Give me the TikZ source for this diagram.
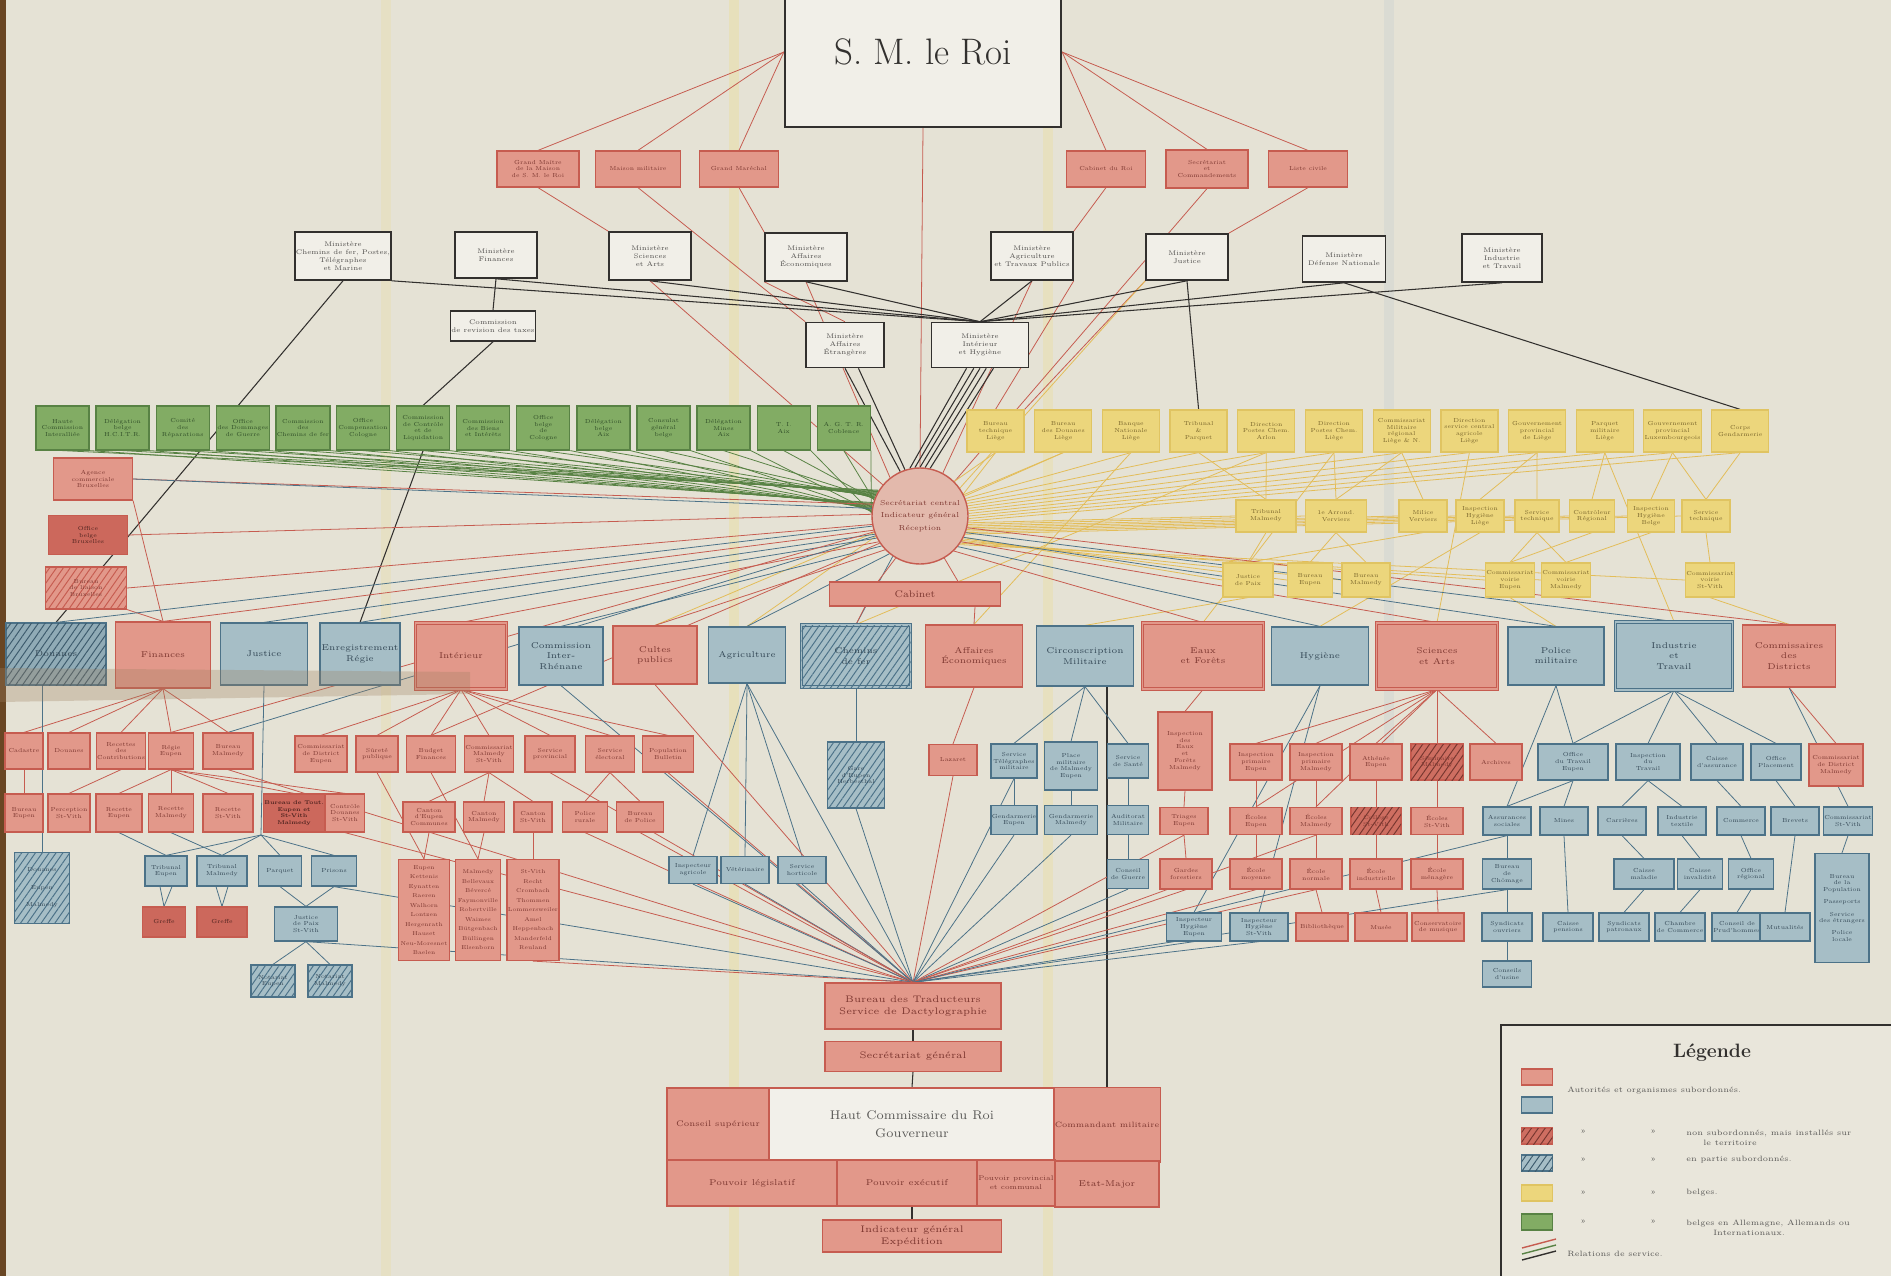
\documentclass[tikz,border=0pt]{standalone}
\usepackage{tikz}
\usetikzlibrary{positioning,patterns.meta,backgrounds}
\definecolor{paper}{RGB}{229,226,213}
\definecolor{redfill}{RGB}{226,152,138}
\definecolor{redline}{RGB}{198,92,80}
\definecolor{redtxt}{RGB}{125,55,48}
\definecolor{bluefill}{RGB}{166,190,198}
\definecolor{blueline}{RGB}{76,114,136}
\definecolor{bluetxt}{RGB}{52,72,86}
\definecolor{greenfill}{RGB}{130,172,100}
\definecolor{greenline}{RGB}{88,130,68}
\definecolor{greentxt}{RGB}{48,78,40}
\definecolor{yelfill}{RGB}{236,214,124}
\definecolor{yelline}{RGB}{224,196,98}
\definecolor{yeltxt}{RGB}{120,100,42}
\definecolor{ink}{RGB}{50,48,46}
\tikzset{
  sz/.style 2 args={minimum width=#1*0.2mm, minimum height=#2*0.2mm},
  box/.style={draw, line width=0.7pt, inner sep=0.5pt, align=center, font=\fontsize{3.3}{3.9}\selectfont},
  redbox/.style={box, draw=redline, fill=redfill, text=redtxt},
  deepred/.style={box, draw=redline, fill=redline!80!redfill, text=redtxt!60!black},
  bluebox/.style={box, draw=blueline, fill=bluefill, text=bluetxt},
  greenbox/.style={box, draw=greenline, fill=greenfill, text=greentxt},
  yelbox/.style={box, draw=yelline, fill=yelfill, text=yeltxt},
  minbox/.style={box, draw=ink, line width=0.9pt, fill=paper!55!white, text=ink!85, font=\fontsize{3.8}{4.6}\selectfont},
  hatched/.style={postaction={pattern={Lines[angle=55,distance=3.2pt,line width=0.55pt]}, pattern color=#1}},
  dbl/.style={double=#1, double distance=0.9pt, line width=0.6pt},
  rowfont/.style={font=\fontsize{4.8}{5.8}\selectfont},
  rel/.style={line width=0.45pt},
  redrel/.style={rel, draw=redline},
  bluerel/.style={rel, draw=blueline},
  greenrel/.style={rel, draw=greenline},
  yelrel/.style={rel, draw=yelline!90!orange},
  inkrel/.style={rel, draw=ink, line width=0.6pt},
  lgtext/.style={anchor=west, inner sep=0pt, text=ink!80, font=\fontsize{4.4}{5.4}\selectfont, align=left},
}
\begin{document}
\begin{tikzpicture}[x=0.2mm, y=-0.2mm]
\useasboundingbox (0,0) rectangle (1891,1276);
\begin{scope}[on background layer]
\fill[paper] (0,0) rectangle (1891,1276);
\fill[paper!70!white, opacity=0.5] (1501,1025) rectangle (1891,1276);
\fill[yellow!70!orange, opacity=0.08] (381,0) rectangle (391,1276);
\fill[yellow!70!orange, opacity=0.12] (729,0) rectangle (739,1276);
\fill[yellow!70!orange, opacity=0.1] (1043,0) rectangle (1053,1276);
\fill[cyan!40!blue, opacity=0.05] (1384,0) rectangle (1394,760);
\fill[brown!55!black] (0,0) rectangle (6,1276);
\end{scope}

\node[minbox, sz={276}{150}, line width=1.3pt, text=ink, font=\fontsize{21}{25}\selectfont] (roi) at (923,52) {S. M. le Roi};

\node[redbox, sz={82}{36}] (gm) at (538,169) {Grand Maître\\de la Maison\\de S.~M. le Roi};
\node[redbox, sz={85}{36}] (mm) at (638,169) {Maison militaire};
\node[redbox, sz={79}{36}] (gmar) at (739,169) {Grand Maréchal};
\node[redbox, sz={79}{36}] (cab) at (1106,169) {Cabinet du Roi};
\node[redbox, sz={82}{38}] (secr) at (1207,169) {Secrétariat\\et\\Commandements};
\node[redbox, sz={79}{36}] (lc) at (1308,169) {Liste civile};

\node[minbox, sz={82}{48}] (mcf) at (343,256) {Ministère\\Chemins de fer, Postes,\\Télégraphes\\et Marine};
\node[minbox, sz={82}{46}] (mfin) at (496,255) {Ministère\\Finances};
\node[minbox, sz={82}{48}] (msci) at (650,256) {Ministère\\Sciences\\et Arts};
\node[minbox, sz={82}{48}] (meco) at (806,257) {Ministère\\Affaires\\Économiques};
\node[minbox, sz={82}{48}] (magr) at (1032,256) {Ministère\\Agriculture\\et Travaux Publics};
\node[minbox, sz={82}{46}] (mjus) at (1187,257) {Ministère\\Justice};
\node[minbox, sz={83}{46}] (mdef) at (1344,259) {Ministère\\Défense Nationale};
\node[minbox, sz={80}{48}] (mind) at (1502,258) {Ministère\\Industrie\\et Travail};
\node[minbox, sz={70}{30}] (ctax) at (493,326) {Commission\\de revision des taxes};
\node[minbox, sz={78}{45}] (maet) at (845,345) {Ministère\\Affaires\\Étrangères};
\node[minbox, sz={97}{45}] (mint) at (980,345) {Ministère\\Intérieur\\et Hygiène};

\foreach \i/\t in {1/{Haute\\Commission\\Interalliée}, 2/{Délégation\\belge\\H.C.I.T.R.}, 3/{Comité\\des\\Réparations}, 4/{Office\\des Dommages\\de Guerre}, 5/{Commission\\des\\Chemins de fer}, 6/{Office\\Compensation\\Cologne}, 7/{Commission\\de Contrôle\\et de\\Liquidation}, 8/{Commission\\des Biens\\et Intérêts}, 9/{Office\\belge\\de\\Cologne}, 10/{Délégation\\belge\\Aix}, 11/{Consulat\\général\\belge}, 12/{Délégation\\Mines\\Aix}, 13/{T. I.\\Aix}, 14/{A.~G.~T.~R.\\Coblence}}
  \node[greenbox, sz={53}{44}] (g\i) at ({62.5+60.1*(\i-1)},428) {\t};

\foreach \i/\t in {1/{Bureau\\technique\\Liège}, 2/{Bureau\\des Douanes\\Liège}, 3/{Banque\\Nationale\\Liège}, 4/{Tribunal\\\&\\Parquet}, 5/{Direction\\Postes Chem.\\Arlon}, 6/{Direction\\Postes Chem.\\Liège}, 7/{Commissariat\\Militaire\\régional\\Liège \& N.}, 8/{Direction\\service central\\agricole\\Liège}, 9/{Gouvernement\\provincial\\de Liège}, 10/{Parquet\\militaire\\Liège}, 11/{Gouvernement\\provincial\\Luxembourgeois}, 12/{Corps\\Gendarmerie}}
  \node[yelbox, sz={57}{42}] (y\i) at ({995.5+67.7*(\i-1)},431) {\t};

\foreach \n/\x/\w/\t in {yb1/1266/60/{Tribunal\\Malmedy}, yb2/1336/61/{1e Arrond.\\Verviers}, yb3/1423/48/{Milice\\Verviers}, yb4/1480/48/{Inspection\\Hygiène\\Liège}, yb5/1537/44/{Service\\technique}, yb6/1592/45/{Contrôleur\\Régional}, yb7/1651/47/{Inspection\\Hygiène\\Belge}, yb8/1706/48/{Service\\technique}}
  \node[yelbox, sz={\w}{32}] (\n) at (\x,516) {\t};

\foreach \n/\x/\w/\t in {yc1/1248/50/{Justice\\de Paix}, yc2/1310/45/{Bureau\\Eupen}, yc3/1366/48/{Bureau\\Malmedy}, yc4/1510/45/{Commissariat\\voirie\\Eupen}, yc5/1566/47/{Commissariat\\voirie\\Malmedy}, yc6/1710/48/{Commissariat\\voirie\\St-Vith}}
  \node[yelbox, sz={\w}{34}] (\n) at (\x,580) {\t};

\node[redbox, sz={79}{42}] (lr1) at (93,479) {Agence\\commerciale\\Bruxelles};
\node[deepred, sz={79}{39}] (lr2) at (88,535) {Office\\belge\\Bruxelles};
\node[redbox, sz={81}{42}, hatched=redline] (lr3) at (86,588) {Bureau\\de liaison\\Bruxelles};

\node[circle, draw=redline, line width=0.8pt, fill=redfill!55!paper, minimum size=96*0.2mm, inner sep=0pt, align=center, text=redtxt, font=\fontsize{4.1}{7.2}\selectfont] (sec) at (920,516) {Secrétariat central\\Indicateur général\\Réception};
\node[redbox, sz={171}{24}, font=\fontsize{5.5}{6.5}\selectfont] (cabinet) at (915,594) {Cabinet};

\node[bluebox, rowfont, sz={100}{62}, fill=bluefill!75!blueline, hatched=blueline!80!black] (mr1) at (56,654) {Douanes};
\node[redbox, rowfont, sz={95}{66}] (mr2) at (163,655) {Finances};
\node[bluebox, rowfont, sz={87}{62}] (mr3) at (264,654) {Justice};
\node[bluebox, rowfont, sz={80}{62}] (mr4) at (360,654) {Enregistrement\\Régie};
\node[redbox, rowfont, sz={91}{66}, dbl=redfill] (mr5) at (461,656) {Intérieur};
\node[bluebox, rowfont, sz={84}{58}] (mr6) at (561,656) {Commission\\Inter-\\Rhénane};
\node[redbox, rowfont, sz={84}{58}] (mr7) at (655,655) {Cultes\\publics};
\node[bluebox, rowfont, sz={77}{56}] (mr8) at (747,655) {Agriculture};
\node[bluebox, rowfont, sz={109}{62}, dbl=bluefill, hatched=blueline] (mr9) at (856,656) {Chemins\\de fer};
\node[redbox, rowfont, sz={97}{62}] (mr10) at (974,656) {Affaires\\Économiques};
\node[bluebox, rowfont, sz={97}{60}] (mr11) at (1085,656) {Circonscription\\Militaire};
\node[redbox, rowfont, sz={121}{66}, dbl=redfill] (mr12) at (1203,656) {Eaux\\et Forêts};
\node[bluebox, rowfont, sz={97}{58}] (mr13) at (1320,656) {Hygiène};
\node[redbox, rowfont, sz={121}{66}, dbl=redfill] (mr14) at (1437,656) {Sciences\\et Arts};
\node[bluebox, rowfont, sz={96}{58}] (mr15) at (1556,656) {Police\\militaire};
\node[bluebox, rowfont, sz={117}{68}, dbl=bluefill] (mr16) at (1674,656) {Industrie\\et\\Travail};
\node[redbox, rowfont, sz={93}{62}] (mr17) at (1789,656) {Commissaires\\des\\Districts};

\foreach \n/\x/\w/\t in {fa1/24/38/{Cadastre}, fa2/69/42/{Douanes}, fa3/121/49/{Recettes\\des\\Contributions}, fa4/171/45/{Régie\\Eupen}, fa5/228/50/{Bureau\\Malmedy}}
  \node[redbox, sz={\w}{36}] (\n) at (\x,751) {\t};
\foreach \n/\x/\w/\t in {fb1/24/38/{Bureau\\Eupen}, fb2/69/42/{Perception\\St-Vith}, fb3/119/46/{Recette\\Eupen}, fb4/171/45/{Recette\\Malmedy}, fb5/228/50/{Recette\\St-Vith}, fb7/345/39/{Contrôle\\Douanes\\St-Vith}}
  \node[redbox, sz={\w}{38}] (\n) at (\x,813) {\t};
\node[deepred, sz={52}{38}, font=\bfseries\fontsize{3.1}{3.7}\selectfont] (fb6) at (294,813) {Bureau de Tout.\\Eupen et\\St-Vith\\Malmedy};
\node[bluebox, sz={55}{71}, hatched=blueline] (fh) at (42,888) {Douanes\\[6pt]Eupen\\[6pt]Malmedy};
\foreach \n/\x/\w/\t in {jc1/166/42/{Tribunal\\Eupen}, jc2/222/50/{Tribunal\\Malmedy}, jc3/280/43/{Parquet}, jc4/334/45/{Prisons}}
  \node[bluebox, sz={\w}{30}] (\n) at (\x,871) {\t};
\node[deepred, sz={43}{30}] (jd1) at (164,922) {Greffe};
\node[deepred, sz={50}{30}] (jd2) at (222,922) {Greffe};
\node[bluebox, sz={63}{34}] (jdp) at (306,924) {Justice\\de Paix\\St-Vith};
\node[bluebox, sz={44}{32}, hatched=blueline] (je1) at (273,981) {Notariat\\Eupen};
\node[bluebox, sz={44}{32}, hatched=blueline] (je2) at (330,981) {Notariat\\Malmedy};

\foreach \n/\x/\w/\t in {ia1/321/52/{Commissariat\\de District\\Eupen}, ia2/377/42/{Sûreté\\publique}, ia3/431/49/{Budget\\Finances}, ia4/489/49/{Commissariat\\Malmedy\\St-Vith}, ia5/550/50/{Service\\provincial}, ia6/610/49/{Service\\électoral}, ia7/668/51/{Population\\Bulletin}}
  \node[redbox, sz={\w}{36}] (\n) at (\x,754) {\t};
\foreach \n/\x/\w/\t in {ib1/429/52/{Canton\\d'Eupen\\Communes}, ib2/484/41/{Canton\\Malmedy}, ib3/533/38/{Canton\\St-Vith}, ib4/585/45/{Police\\rurale}, ib5/640/47/{Bureau\\de Police}}
  \node[redbox, sz={\w}{30}] (\n) at (\x,817) {\t};
\foreach \n/\x/\w/\t in {it1/424/51/{Eupen\\Kettenis\\Eynatten\\Raeren\\Walhorn\\Lontzen\\Hergenrath\\Hauset\\Neu-Moresnet\\Baelen}, it2/478/45/{Malmedy\\Bellevaux\\Bévercé\\Faymonville\\Robertville\\Waimes\\Bütgenbach\\Büllingen\\Elsenborn}, it3/533/45/{St-Vith\\Recht\\Crombach\\Thommen\\Lommersweiler\\Amel\\Heppenbach\\Manderfeld\\Reuland}}
  \node[redbox, sz={\w}{101}, font=\fontsize{3.2}{5.4}\selectfont] (\n) at (\x,910) {\t};

\foreach \n/\x/\t in {ag1/693/{Inspecteur\\agricole}, ag2/745/{Vétérinaire}, ag3/802/{Service\\horticole}}
  \node[bluebox, sz={48}{27}] (\n) at (\x,870) {\t};
\node[bluebox, sz={57}{66}, hatched=blueline] (h9) at (856,775) {Gare\\d'Eupen\\Herbesthal};
\node[redbox, sz={48}{31}] (laz) at (953,760) {Lazaret};
\node[bluebox, sz={46}{34}] (ma1) at (1014,761) {Service\\Télégraphes\\militaire};
\node[bluebox, sz={53}{48}] (ma2) at (1071,766) {Place\\militaire\\de Malmedy\\Eupen};
\node[bluebox, sz={41}{34}] (ma3) at (1128,761) {Service\\de Santé};
\node[bluebox, sz={46}{29}] (mb1) at (1014,820) {Gendarmerie\\Eupen};
\node[bluebox, sz={53}{29}] (mb2) at (1071,820) {Gendarmerie\\Malmedy};
\node[bluebox, sz={41}{29}] (mb3) at (1128,820) {Auditorat\\Militaire};
\node[bluebox, sz={41}{29}] (mc3) at (1128,874) {Conseil\\de Guerre};

\node[redbox, sz={54}{78}] (ef1) at (1185,751) {Inspection\\des\\Eaux\\et\\Forêts\\Malmedy};
\node[redbox, sz={48}{27}] (ef2) at (1184,821) {Triages\\Eupen};
\node[redbox, sz={52}{30}] (ef3) at (1186,874) {Gardes\\forestiers};
\node[bluebox, sz={55}{28}] (ef4) at (1194,927) {Inspecteur\\Hygiène\\Eupen};
\node[bluebox, sz={58}{28}] (ef5) at (1259,927) {Inspecteur\\Hygiène\\St-Vith};

\foreach \n/\x/\t in {sa1/1256/{Inspection\\primaire\\Eupen}, sa2/1316/{Inspection\\primaire\\Malmedy}, sa3/1376/{Athénée\\Eupen}, sa5/1496/{Archives}}
  \node[redbox, sz={52}{36}] (\n) at (\x,762) {\t};
\node[redbox, sz={52}{36}, fill=redline!70!redfill, hatched=redline!60!black] (sa4) at (1437,762) {Séminaire\\Malmedy};
\foreach \n/\x/\t in {sb1/1256/{Écoles\\Eupen}, sb2/1316/{Écoles\\Malmedy}, sb4/1437/{Écoles\\St-Vith}}
  \node[redbox, sz={52}{27}] (\n) at (\x,821) {\t};
\node[redbox, sz={50}{27}, fill=redline!70!redfill, hatched=redline!60!black] (sb3) at (1376,821) {Collège\\St-Vith};
\foreach \n/\x/\t in {sc1/1256/{École\\moyenne}, sc2/1316/{École\\normale}, sc3/1376/{École\\industrielle}, sc4/1437/{École\\ménagère}}
  \node[redbox, sz={52}{30}] (\n) at (\x,874) {\t};
\foreach \n/\x/\t in {sd1/1322/{Bibliothèque}, sd2/1381/{Musée}, sd3/1438/{Conservatoire\\de musique}}
  \node[redbox, sz={52}{28}] (\n) at (\x,927) {\t};

\foreach \n/\x/\w/\t in {na1/1573/70/{Office\\du Travail\\Eupen}, na2/1648/64/{Inspection\\du\\Travail}, na3/1717/52/{Caisse\\d'assurance}, na4/1776/50/{Office\\Placement}}
  \node[bluebox, sz={\w}{36}] (\n) at (\x,762) {\t};
\node[redbox, sz={54}{42}] (nr) at (1836,765) {Commissariat\\de District\\Malmedy};
\foreach \n/\x/\t in {nb1/1507/{Assurances\\sociales}, nb2/1564/{Mines}, nb3/1622/{Carrières}, nb4/1682/{Industrie\\textile}, nb5/1741/{Commerce}, nb6/1795/{Brevets}, nb7/1848/{Commissariat\\St-Vith}}
  \node[bluebox, sz={48}{28}] (\n) at (\x,821) {\t};
\foreach \n/\x/\w/\t in {nc1/1507/49/{Bureau\\de\\Chômage}, nc2/1644/60/{Caisse\\maladie}, nc3/1700/45/{Caisse\\invalidité}, nc4/1751/45/{Office\\régional}}
  \node[bluebox, sz={\w}{30}] (\n) at (\x,874) {\t};
\node[bluebox, sz={54}{109}] (ntall) at (1842,908) {Bureau\\de la\\Population\\[3pt]Passeports\\[3pt]Service\\des étrangers\\[3pt]Police\\locale};
\foreach \n/\x/\t in {nd1/1507/{Syndicats\\ouvriers}, nd2/1568/{Caisse\\pensions}, nd3/1624/{Syndicats\\patronaux}, nd4/1680/{Chambre\\de Commerce}, nd5/1737/{Conseil de\\Prud'hommes}, nd6/1785/{Mutualités}}
  \node[bluebox, sz={50}{28}] (\n) at (\x,927) {\t};
\node[bluebox, sz={49}{26}] (ne) at (1507,974) {Conseils\\d'usine};

\node[redbox, sz={176}{46}, font=\fontsize{5.4}{7}\selectfont] (trad) at (913,1006) {Bureau des Traducteurs\\Service de Dactylographie};
\node[redbox, sz={176}{30}, font=\fontsize{5.4}{7}\selectfont, below=2.2mm of trad] (sg) {Secrétariat général};
\node[redbox, sz={102}{72}, font=\fontsize{4.6}{5.6}\selectfont] (conseil) at (718,1124) {Conseil supérieur};
\node[box, draw=redline, fill=paper!50!white, text=ink!80, sz={286}{72}, font=\fontsize{7.2}{10}\selectfont] (hc) at (912,1124) {Haut Commissaire du Roi\\Gouverneur};
\node[redbox, sz={104}{75}, font=\fontsize{4.4}{5.4}\selectfont] (cmil) at (1107,1125) {Commandant militaire};
\node[redbox, sz={170}{46}, font=\fontsize{4.8}{5.8}\selectfont] (pleg) at (752,1183) {Pouvoir législatif};
\node[redbox, sz={140}{46}, font=\fontsize{4.8}{5.8}\selectfont] (pexe) at (907,1183) {Pouvoir exécutif};
\node[redbox, sz={78}{46}, font=\fontsize{3.9}{5.2}\selectfont] (pprov) at (1016,1183) {Pouvoir provincial\\et communal};
\node[redbox, sz={104}{46}, font=\fontsize{4.8}{5.8}\selectfont] (emaj) at (1107,1184) {Etat-Major};
\node[redbox, sz={179}{32}, font=\fontsize{5.4}{7}\selectfont] (ind) at (912,1236) {Indicateur général\\Expédition};

\draw[ink, line width=1pt] (1501,1276) -- (1501,1025) -- (1891,1025);
\node[text=ink, font=\bfseries\fontsize{11}{13}\selectfont] (lgtitle) at (1712,1053) {Légende};
\node[redbox, sz={31}{16}] (lgred) at (1537,1077) {};
\node[bluebox, sz={31}{16}] (lgblue) at (1537,1105) {};
\node[redbox, sz={31}{16}, fill=redline!70!redfill, hatched=redline!60!black] (lgredh) at (1537,1136) {};
\node[bluebox, sz={31}{16}, hatched=blueline!80!black] (lgblueh) at (1537,1163) {};
\node[yelbox, sz={31}{16}] (lgyel) at (1537,1193) {};
\node[greenbox, sz={31}{16}] (lggreen) at (1537,1222) {};
\coordinate (lgl1) at (1522,1248);
\coordinate (lgl2) at (1556,1239);
\coordinate (lgl3) at (1522,1254);
\coordinate (lgl4) at (1556,1245);
\coordinate (lgl5) at (1522,1260);
\coordinate (lgl6) at (1556,1251);
\draw[redrel, line width=0.8pt] (lgl1) -- (lgl2);
\draw[greenrel, line width=0.8pt] (lgl3) -- (lgl4);
\draw[inkrel, line width=0.8pt] (lgl5) -- (lgl6);
\node[lgtext] (lgt1) at (1567,1091) {Autorités et organismes subordonnés.};
\foreach \n/\y in {a/1132, b/1160, c/1193, d/1222} {
  \node[lgtext] (lgq1\n) at (1580,\y) {»};
  \node[lgtext] (lgq2\n) at (1650,\y) {»};
}
\node[lgtext] (lgt2) at (1686,1138) {non subordonnés, mais installés sur\\\hspace{2.2em}le territoire};
\node[lgtext] (lgt3) at (1686,1160) {en partie subordonnés.};
\node[lgtext] (lgt4) at (1686,1193) {belges.};
\node[lgtext] (lgt5) at (1686,1228) {belges en Allemagne, Allemands ou\\\hspace{3.5em}Internationaux.};
\node[lgtext] (lgt6) at (1567,1254) {Relations de service.};

\begin{scope}[on background layer]
\foreach \b in {gm,mm,gmar} \draw[redrel] (roi.west) -- (\b.north);
\foreach \b in {cab,secr,lc} \draw[redrel] (roi.east) -- (\b.north);
\draw[redrel] (roi.south) -- (sec.north);
\draw[redrel] (gm.south) -- (msci.north west);
\draw[redrel] (mm.south) -- (maet.north west);
\draw[redrel] (gmar.south) -- (meco.north west);
\draw[redrel] (msci.south) -- (sec.140);
\draw[redrel] (meco.south west) -- (maet.north);
\draw[redrel] (meco.south) -- (sec.128);
\draw[redrel] (cab.south) -- (magr.north east);
\draw[redrel] (magr.south east) -- (y1.north);
\draw[redrel] (magr.south) -- (sec.62);
\draw[redrel] (secr.south) -- (sec.45);
\draw[redrel] (lc.south) -- (mjus.north east);
\draw[redrel] (mjus.south west) -- (y1.north east);
\draw[yelrel] (mjus.south west) -- (sec.35);

\foreach \m in {mcf.south east, mfin.south, msci.south, meco.south, magr.south, mjus.south, mdef.south, mind.south}
  \draw[inkrel] (\m) -- (mint.north);
\draw[inkrel] (mfin.south) -- (ctax.north);
\draw[inkrel] (ctax.south) -- (g7.north);
\draw[inkrel] (g7.south) -- (mr4.north);
\draw[inkrel] (mcf.south) -- (mr1.north);
\draw[inkrel] (mjus.south) -- (y4.north);
\draw[inkrel] (mdef.south) -- (y12.north);
\foreach \a/\b in {240/102, 255/96, 270/90, 285/84, 300/78}
  \draw[inkrel] (mint.\a) -- (sec.\b);
\draw[inkrel] (maet.south) -- (sec.114);
\draw[inkrel] (maet.300) -- (sec.108);

\foreach \i in {1,...,14} {
  \pgfmathtruncatemacro\ang{147+\i}
  \draw[greenrel] (g\i.south) -- (sec.\ang);
  \pgfmathtruncatemacro\ang{163+\i}
  \draw[greenrel] (g\i.south east) -- (sec.\ang);
}
\foreach \i in {1,...,12} {
  \pgfmathtruncatemacro\ang{30-3*\i}
  \draw[yelrel] (y\i.south) -- (sec.\ang);
}
\foreach \b/\a in {yb1/-8, yb2/-10, yb3/-12, yb4/-14, yb5/-16, yb6/-18, yb7/-20, yb8/-22, yc1/-26, yc2/-28, yc3/-30, yc4/-32, yc5/-34, yc6/-36}
  \draw[yelrel] (sec.\a) -- (\b.west);
\foreach \a/\b in {y4/yb1, y5/yb1, y6/yb2, y7/yb2, y7/yb3, y9/yb4, y9/yb5, y10/yb6, y11/yb7, y11/yb8, y12/yb8, yb1/yc1, yb2/yc2, yb2/yc3, yb3/yc1, yb5/yc4, yb5/yc5, yb6/yc4, yb8/yc6, yb7/yc5}
  \draw[yelrel] (\a.south) -- (\b.north);
\foreach \a/\b in {y1/mr8, y2/mr7, y3/mr10, y5/mr9, y6/mr12, y8/mr14, y10/mr16, yb4/mr13, yc1/mr11, yc4/mr15, yc6/mr17}
  \draw[yelrel] (\a.south) -- (\b.north);

\foreach \b/\a in {lr1/166, lr2/178, lr3/190}
  \draw[redrel] (\b.east) -- (sec.\a);
\draw[bluerel] (lr1.east) -- (sec.171);
\draw[redrel] (lr1.south east) -- (mr2.north);
\draw[redrel] (lr3.south east) -- (mr2.north);

\foreach \b/\c/\a in {mr1/bluerel/192, mr2/redrel/197, mr3/bluerel/202, mr4/bluerel/207, mr5/redrel/212, mr6/bluerel/218, mr7/redrel/224, mr8/bluerel/231, mr12/redrel/314, mr13/bluerel/321, mr14/redrel/328, mr15/bluerel/334, mr16/bluerel/340, mr17/redrel/346, fa4/redrel/199, fa5/bluerel/204, ia3/redrel/214, mr9/bluerel/236}
  \draw[\c] (sec.\a) -- (\b.north);
\draw[redrel] (sec.240) -- ([xshift=-7.4mm]cabinet.north);
\draw[redrel] (sec.300) -- ([xshift=8.6mm]cabinet.north);
\draw[redrel] ([xshift=12mm]cabinet.south) -- (mr10.north);
\draw[redrel] ([xshift=-10mm]cabinet.south) -- (mr9.north);
\draw[inkrel] (cmil.north) -- (cmil.north |- mr11.south);

\foreach \b in {fa1,fa2,fa3,fa4,fa5} \draw[redrel] (mr2.south) -- (\b.north);
\foreach \a/\b in {fa1/fb1, fa3/fb2, fa4/fb3, fa4/fb4, fa4/fb5, fa4/fb6, fa4/fb7}
  \draw[redrel] (\a.south) -- (\b.north);
\draw[bluerel] (fh.north) -- (fh.north |- mr1.south);
\coordinate (jn) at (261,835);
\draw[bluerel] (mr3.south) -- (jn);
\foreach \b in {jc1,jc2,jc3,jc4} \draw[bluerel] (jn) -- (\b.north);
\draw[bluerel] (fb3.south) -- (jc1.north);
\draw[bluerel] (fb4.south) -- (jc2.north);
\draw[bluerel] ([xshift=-1.2mm]jc1.south) -- (jd1.north);
\draw[bluerel] ([xshift=1.2mm]jc1.south) -- (jd1.north);
\draw[bluerel] ([xshift=-1.2mm]jc2.south) -- (jd2.north);
\draw[bluerel] ([xshift=1.2mm]jc2.south) -- (jd2.north);
\draw[bluerel] (jc3.south) -- (jdp.north);
\draw[bluerel] (jc4.south) -- (jdp.north);
\draw[bluerel] (jdp.south) -- (je1.north);
\draw[bluerel] (jdp.south) -- (je2.north);

\foreach \b in {ia1,ia2,ia3,ia4,ia5,ia6,ia7} \draw[redrel] (mr5.south) -- (\b.north);
\foreach \a/\b in {ia4/ib1, ia4/ib2, ia4/ib3, ia6/ib4, ia6/ib5, ib1/it1, ib2/it2, ib3/it3, ia2/it1, ia3/it2}
  \draw[redrel] (\a.south) -- (\b.north);

\foreach \b in {ag1,ag2,ag3} \draw[bluerel] (mr8.south) -- (\b.north);
\draw[bluerel] (mr9.south) -- (h9.north);
\draw[redrel] (mr10.south) -- (laz.north);
\foreach \b in {ma1,ma2,ma3} \draw[bluerel] (mr11.south) -- (\b.north);
\foreach \a/\b in {ma1/mb1, ma2/mb2, ma3/mb3, mb3/mc3} \draw[bluerel] (\a.south) -- (\b.north);
\draw[redrel] (mr12.south) -- (ef1.north);
\draw[redrel] (ef1.south) -- (ef2.north);
\draw[redrel] (ef2.south) -- (ef3.north);
\draw[bluerel] (mr13.south) -- (ef4.north);
\draw[bluerel] (mr13.south) -- (ef5.north);
\foreach \b in {sa1,sa2,sa3,sa4,sa5,sb1,sb2} \draw[redrel] (mr14.south) -- (\b.north);
\foreach \a/\b in {sa1/sb1, sa2/sb2, sa3/sb3, sa4/sb4, sb1/sc1, sb2/sc2, sb3/sc3, sb4/sc4, sc2/sd1, sc3/sd2, sc4/sd3}
  \draw[redrel] (\a.south) -- (\b.north);
\foreach \b in {na1,na2,na3,na4} \draw[bluerel] (mr16.south) -- (\b.north);
\foreach \a/\b in {na1/nb1, na1/nb2, na2/nb3, na2/nb4, na3/nb5, na4/nb6, nb1/nc1, nb3/nc2, nb4/nc3, nb5/nc4, nc1/nd1, nc2/nd3, nc3/nd4, nc4/nd5, nb6/nd6, nd1/ne, nb2/nd2}
  \draw[bluerel] (\a.south) -- (\b.north);
\draw[bluerel] (mr15.south) -- (na1.north);
\draw[bluerel] (mr15.south) -- (nb1.north);
\draw[redrel] (mr17.south) -- (nr.north);
\draw[bluerel] (mr17.south) -- (nb7.north);
\draw[bluerel] (nb7.south) -- (ntall.north);

\foreach \s/\c in {fa5/redrel, fb7/redrel, jc4/bluerel, jdp/bluerel, ia7/redrel, ib4/redrel, ib5/redrel, it3/redrel, mr6/bluerel, mr7/redrel, ag1/bluerel, ag2/bluerel, ag3/bluerel, mr8/bluerel, h9/bluerel, laz/redrel, ma1/bluerel, mb1/bluerel, mb2/bluerel, mc3/bluerel, ef2/redrel, ef3/redrel, ef4/bluerel, sc1/redrel, sb2/redrel, sc2/redrel, ef5/bluerel, nc1/bluerel, nb1/bluerel, ia5/redrel}
  \draw[\c] (\s.south) -- (trad.north);
\draw[inkrel] (trad.south) -- (sg.north);
\draw[inkrel] (sg.south) -- (hc.north);
\draw[inkrel] (ind.north) -- (ind.north |- pexe.south);
\end{scope}

\fill[brown!50!gray, opacity=0.3] (0,668) -- (470,672) -- (470,694) -- (0,702) -- cycle;
\end{tikzpicture}
\end{document}
